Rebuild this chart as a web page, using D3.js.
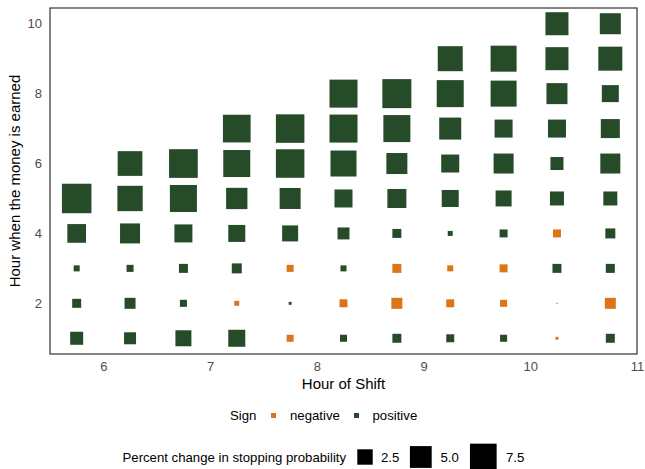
<!DOCTYPE html>
<html>
<head>
<meta charset="utf-8">
<script src="https://cdn.jsdelivr.net/npm/d3@7"></script>
<style>
  body { margin: 0; background: #fff; }
  text { font-family: "Liberation Sans", Arial, sans-serif; }
</style>
</head>
<body>
<script>
var w = 645;
var h = 469;

// hour of shift (column centres)
var shiftHours = [5.75, 6.25, 6.75, 7.25, 7.75, 8.25, 8.75, 9.25, 9.75, 10.25, 10.75];

// percent change in stopping probability, per shift hour, for earned hour 1..n
// negative values = negative sign
var pctChange = [
  [1.78, 0.85, 0.38, 3.68, 9.16],
  [1.51, 1.27, 0.52, 4.21, 6.74, 6.42],
  [2.69, 0.52, 0.85, 3.41, 7.67, 8.67],
  [3.04, -0.26, 1.05, 3.04, 4.77, 7.67, 8.07],
  [-0.52, 0.09, -0.52, 2.69, 4.64, 8.55, 8.55],
  [0.52, -0.67, 0.38, 1.51, 3.41, 7.11, 8.25, 8.25],
  [0.85, -1.27, -0.85, 0.85, 3.80, 4.64, 7.67, 8.85],
  [0.67, -0.67, -0.38, 0.26, 3.04, 3.41, 5.09, 7.67, 6.58],
  [0.52, -0.52, -0.67, 0.67, 2.69, 4.21, 3.41, 7.11, 7.11],
  [-0.09, 0.01, 0.85, -0.67, 2.06, 1.78, 3.41, 4.64, 5.57, 5.57],
  [0.85, -1.27, 0.85, 1.05, 2.06, 4.21, 3.80, 3.04, 6.06, 4.64]
];

var xTicks = [6, 7, 8, 9, 10, 11];
var yTicks = [2, 4, 6, 8, 10];
var signLabels = ["negative", "positive"];
var sizeBreaks = [2.5, 5.0, 7.5];

var points = [];
shiftHours.forEach(function(sh, i) {
  pctChange[i].forEach(function(v, j) {
    points.push({ shift: sh, earned: j + 1, value: Math.abs(v), sign: v < 0 ? "negative" : "positive" });
  });
});

var m = { left: 50, top: 8, right: 637, bottom: 354 };

var x = d3.scaleLinear().domain([5.5, 11]).range([m.left, m.right]);
var y = d3.scaleLinear().domain([0.55, 10.45]).range([m.bottom, m.top]);
var side = d3.scaleSqrt().domain([0, 7.5]).range([0, 26.7]);
var color = d3.scaleOrdinal().domain(signLabels).range(["#DD7418", "#264B29"]);

var svg = d3.select("body").append("svg")
  .attr("width", w)
  .attr("height", h);

// squares
svg.selectAll("rect.pt")
  .data(points)
  .enter()
  .append("rect")
  .attr("class", "pt")
  .attr("x", function(d){ return x(d.shift) - side(d.value) / 2; })
  .attr("y", function(d){ return y(d.earned) - side(d.value) / 2; })
  .attr("width", function(d){ return Math.max(side(d.value), 1); })
  .attr("height", function(d){ return Math.max(side(d.value), 1); })
  .attr("fill", function(d){ return color(d.sign); });

// panel border
svg.append("rect")
  .attr("x", m.left)
  .attr("y", m.top)
  .attr("width", m.right - m.left)
  .attr("height", m.bottom - m.top)
  .attr("fill", "none")
  .attr("stroke", "#333333")
  .attr("stroke-width", 1.2);

// axes
var xAxis = svg.append("g")
  .attr("transform", "translate(0," + m.bottom + ")")
  .call(d3.axisBottom(x).tickValues(xTicks).tickFormat(d3.format("d")).tickSize(0).tickPadding(8));
var yAxis = svg.append("g")
  .attr("transform", "translate(" + m.left + ",0)")
  .call(d3.axisLeft(y).tickValues(yTicks).tickFormat(d3.format("d")).tickSize(0).tickPadding(8));
[xAxis, yAxis].forEach(function(a) {
  a.select(".domain").remove();
  a.selectAll("text")
    .attr("font-size", "13px")
    .attr("fill", "#4d4d4d");
});

svg.append("text")
  .attr("x", (m.left + m.right) / 2)
  .attr("y", 388.5)
  .attr("text-anchor", "middle")
  .attr("font-size", "15px")
  .attr("fill", "#000")
  .text("Hour of Shift");

svg.append("text")
  .attr("transform", "translate(20," + (m.top + m.bottom) / 2 + ") rotate(-90)")
  .attr("text-anchor", "middle")
  .attr("font-size", "15px")
  .attr("fill", "#000")
  .text("Hour when the money is earned");

// sign legend
svg.append("text")
  .attr("x", 230).attr("y", 420)
  .attr("font-size", "13.2px")
  .text("Sign");
var signPos = [{ k: 273.5, t: 290 }, { k: 356.5, t: 372.5 }];
signLabels.forEach(function(s, i) {
  svg.append("rect")
    .attr("x", signPos[i].k - 2.5).attr("y", 413)
    .attr("width", 5).attr("height", 5)
    .attr("fill", color(s));
  svg.append("text")
    .attr("x", signPos[i].t).attr("y", 420)
    .attr("font-size", "13.2px")
    .text(s);
});

// size legend
svg.append("text")
  .attr("x", 122.5).attr("y", 461.5)
  .attr("font-size", "13.2px")
  .text("Percent change in stopping probability");
var sizePos = [{ k: 365, t: 381 }, { k: 420.8, t: 440.5 }, { k: 483.3, t: 506 }];
sizeBreaks.forEach(function(b, i) {
  var s = side(b);
  svg.append("rect")
    .attr("x", sizePos[i].k - s / 2).attr("y", 457 - s / 2)
    .attr("width", s).attr("height", s)
    .attr("fill", "#000");
  svg.append("text")
    .attr("x", sizePos[i].t).attr("y", 461.5)
    .attr("font-size", "13.2px")
    .text(d3.format(".1f")(b));
});
</script>
</body>
</html>
